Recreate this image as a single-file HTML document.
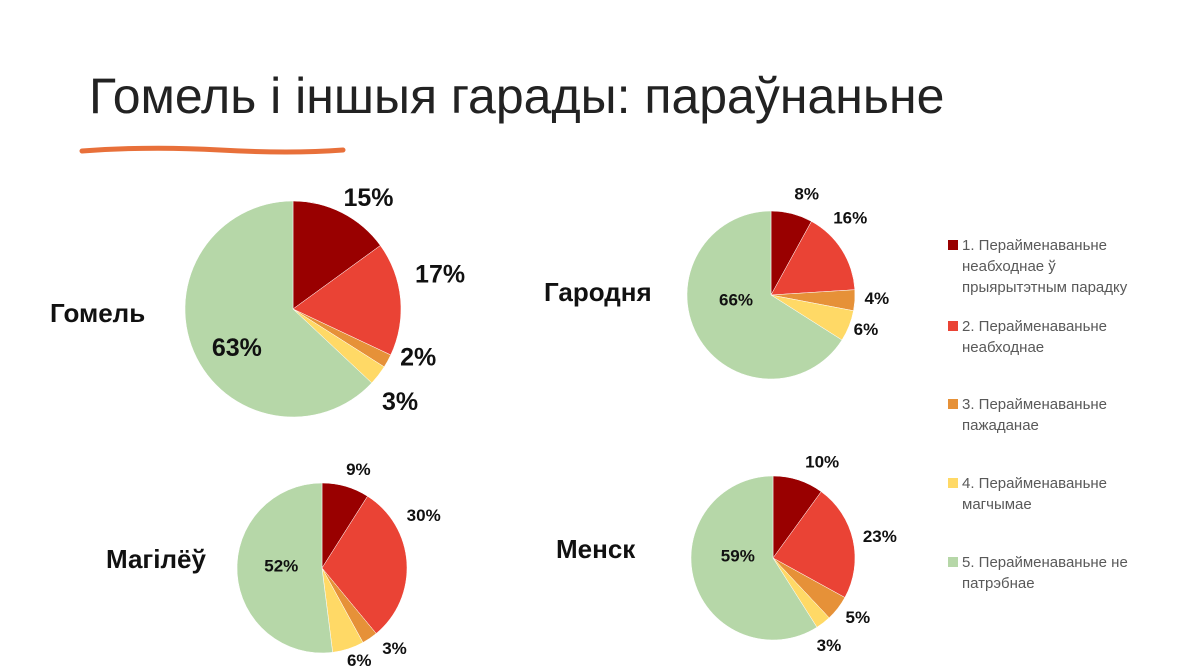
<!DOCTYPE html>
<html><head><meta charset="utf-8"><style>
body{margin:0;background:#fff;width:1200px;height:672px;overflow:hidden;font-family:"Liberation Sans",sans-serif}
#title{position:absolute;left:89px;top:67px;font-size:50px;color:#222;white-space:nowrap}
.city{position:absolute;font-weight:bold;font-size:26px;color:#111}
.leg{position:absolute;left:948px;font-size:15px;color:#595959;line-height:21px;width:205px}
.leg span{position:absolute;left:0;top:5px;width:10px;height:10px}
.leg div{margin-left:14px}
</style></head><body>
<div id="title">Гомель і іншыя гарады: параўнаньне</div>
<svg style="position:absolute;left:0;top:0" width="1200" height="672" id="svg">
<path d="M82 151 Q150 146 220 150 T343 150" stroke="#e8703a" stroke-width="5" fill="none" stroke-linecap="round"/>
</svg>
<div class="city" style="left:50px;top:298px">Гомель</div>
<div class="city" style="left:544px;top:277px">Гародня</div>
<div class="city" style="left:106px;top:544px">Магілёў</div>
<div class="city" style="left:556px;top:534px">Менск</div>
<div class="leg" style="top:235px"><span style="background:#990000"></span><div>1. Перайменаваньне неабходнае ў прыярытэтным парадку</div></div>
<div class="leg" style="top:316px"><span style="background:#ea4335"></span><div>2. Перайменаваньне неабходнае</div></div>
<div class="leg" style="top:394px"><span style="background:#e69138"></span><div>3. Перайменаваньне пажаданае</div></div>
<div class="leg" style="top:473px"><span style="background:#ffd966"></span><div>4. Перайменаваньне магчымае</div></div>
<div class="leg" style="top:552px"><span style="background:#b6d7a8"></span><div>5. Перайменаваньне не патрэбнае</div></div>
<script>
const categories=["1","2","3","4","5"];
const gomel=[15,17,2,3,63];
const garodnia=[8,16,4,6,66];
const magilyou=[9,30,3,6,52];
const mensk=[10,23,5,3,59];
const colors=["#990000","#ea4335","#e69138","#ffd966","#b6d7a8"];
const svg=document.getElementById('svg');
const NS="http://www.w3.org/2000/svg";
function pie(name,vals,cx,cy,r,fs,nudge){
  const tot=vals.reduce((a,b)=>a+b,0);let a0=0;
  vals.forEach((v,i)=>{
    const a1=a0+v/tot*2*Math.PI;
    const x0=cx+r*Math.sin(a0),y0=cy-r*Math.cos(a0),x1=cx+r*Math.sin(a1),y1=cy-r*Math.cos(a1);
    const p=document.createElementNS(NS,'path');
    p.setAttribute('d',`M${cx} ${cy}L${x0} ${y0}A${r} ${r} 0 ${a1-a0>Math.PI?1:0} 1 ${x1} ${y1}Z`);
    p.setAttribute('fill',colors[i]);p.setAttribute('stroke','#fff');p.setAttribute('stroke-width','0.5');
    
    
    svg.appendChild(p);
    const m=(a0+a1)/2+nudge[i][0]*Math.PI/180;const R=r*nudge[i][1];
    const t=document.createElementNS(NS,'text');
    t.setAttribute('x',cx+R*Math.sin(m));t.setAttribute('y',cy-R*Math.cos(m)+fs*0.35);
    t.setAttribute('text-anchor','middle');t.setAttribute('font-size',fs);t.setAttribute('font-weight','bold');
    t.setAttribute('font-family','Liberation Sans, sans-serif');t.setAttribute('fill','#111');
    t.textContent=v+'%';
    
    
    svg.appendChild(t);
    a0=a1;
  });
}
pie('gomel',gomel,293,309,108,25,[[7,1.25],[-8,1.4],[-8,1.24],[3,1.31],[-11,0.63]]);
pie('garodnia',garodnia,771,295,84,17,[[5,1.28],[-12,1.32],[-2,1.26],[-2,1.2],[21,0.42]]);
pie('magilyou',magilyou,322,568,85,17,[[4,1.24],[-24,1.35],[-8,1.27],[-4,1.17],[7,0.48]]);
pie('mensk',mensk,773,558,82,17,[[9,1.32],[1,1.33],[-3,1.26],[5,1.26],[20,0.43]]);
</script>
</body></html>
